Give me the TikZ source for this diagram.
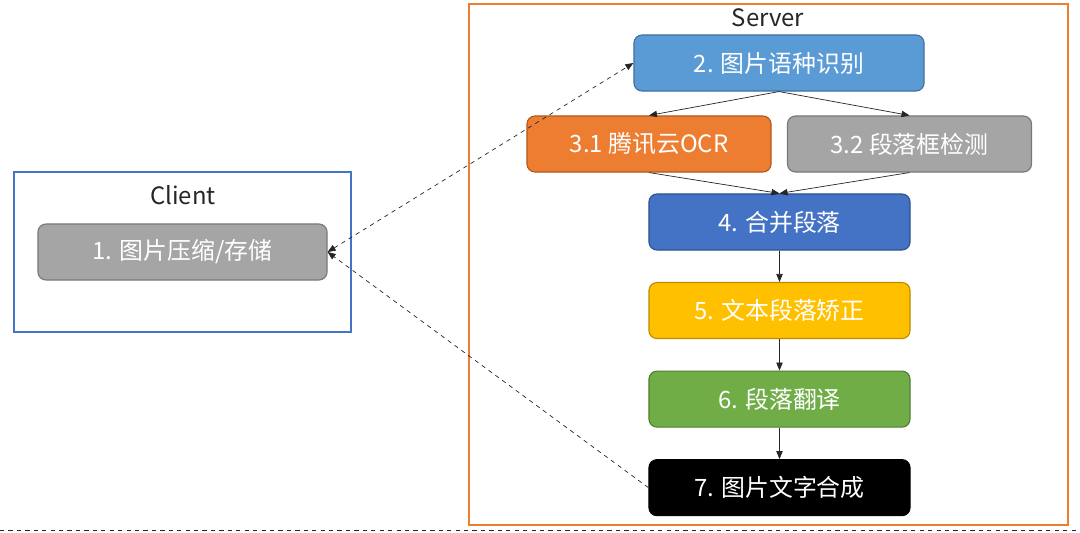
\documentclass[tikz,border=0pt]{standalone}
\usepackage{fontspec}
\setmainfont{Noto Sans CJK SC}
\usetikzlibrary{arrows.meta,positioning}
\definecolor{OffBlue}{HTML}{4472C4}
\definecolor{OffBlueDk}{HTML}{2F528F}
\definecolor{OffSky}{HTML}{5B9BD5}
\definecolor{OffSkyDk}{HTML}{41719C}
\definecolor{OffOrange}{HTML}{ED7D31}
\definecolor{OffOrangeDk}{HTML}{AE5A21}
\definecolor{OffGray}{HTML}{A5A5A5}
\definecolor{OffGrayDk}{HTML}{787878}
\definecolor{OffYellow}{HTML}{FFC000}
\definecolor{OffYellowDk}{HTML}{BC8C00}
\definecolor{OffGreen}{HTML}{70AD47}
\definecolor{OffGreenDk}{HTML}{507E32}

\begin{document}
\begin{tikzpicture}[
    x=0.025cm,y=-0.025cm,
    node distance=7.85mm,
    stage/.style={draw,rounded corners=2mm,minimum height=14mm,line width=0.8pt,
      text=white,font=\fontsize{17}{20}\selectfont,inner sep=0pt},
    frame/.style={draw,line width=0.9pt,inner sep=0pt},
    tag/.style={font=\fontsize{17}{20}\selectfont,text=black!85},
    arrow/.style={-{Triangle[length=2mm,width=1.6mm]},line width=0.5pt,draw=black!85},
    link/.style={arrow,dashed}
  ]
    \useasboundingbox (0,0) rectangle (1080,533);
    % containers
    \node[frame,draw=OffBlue,minimum width=8.425cm,minimum height=4cm] (client) at (182.5,252) {};
    \node[frame,draw=OffOrange,minimum width=14.975cm,minimum height=13.025cm] (server) at (768.5,264.5) {};
    \node[tag] (clientlbl) at (183,195) {Client};
    \node[tag] (serverlbl) at (768,18) {Server};
    % stages
    \node[stage,fill=OffGray,draw=OffGrayDk,minimum width=7.225cm] (cmp) at (182.5,252) {1. 图片压缩/存储};
    \node[stage,fill=OffSky,draw=OffSkyDk,minimum width=7.25cm] (lang) at (779,63) {2. 图片语种识别};
    \node[stage,fill=OffOrange,draw=OffOrangeDk,minimum width=6.1cm] (ocr) at (649,144) {3.1 腾讯云OCR};
    \node[stage,fill=OffGray,draw=OffGrayDk,minimum width=6.1cm] (det) at (909.5,144) {3.2 段落框检测};
    \node[stage,fill=OffBlue,draw=OffBlueDk,minimum width=6.525cm] (merge) at (779.5,222) {4. 合并段落};
    \node[stage,fill=OffYellow,draw=OffYellowDk,minimum width=6.525cm,below=of merge] (fix) {5. 文本段落矫正};
    \node[stage,fill=OffGreen,draw=OffGreenDk,minimum width=6.525cm,below=of fix] (trans) {6. 段落翻译};
    \node[stage,fill=black,draw=black,minimum width=6.525cm,below=of trans] (synth) {7. 图片文字合成};
    % flow
    \draw[arrow] (lang.south)--(ocr.north);\draw[arrow] (lang.south)--(det.north);
    \draw[arrow] (ocr.south)--(merge.north);\draw[arrow] (det.south)--(merge.north);
    \draw[arrow] (merge)--(fix);\draw[arrow] (fix)--(trans);\draw[arrow] (trans)--(synth);
    \draw[link,{Triangle[length=2mm,width=1.6mm]}-{Triangle[length=2mm,width=1.6mm]}] (cmp.east)--(lang.west);
    \draw[link] (synth.west)--(cmp.east);
    \draw[dashed,line width=0.6pt,draw=black!85] (0,530)--(1080,530);
  \end{tikzpicture}
\end{document}
